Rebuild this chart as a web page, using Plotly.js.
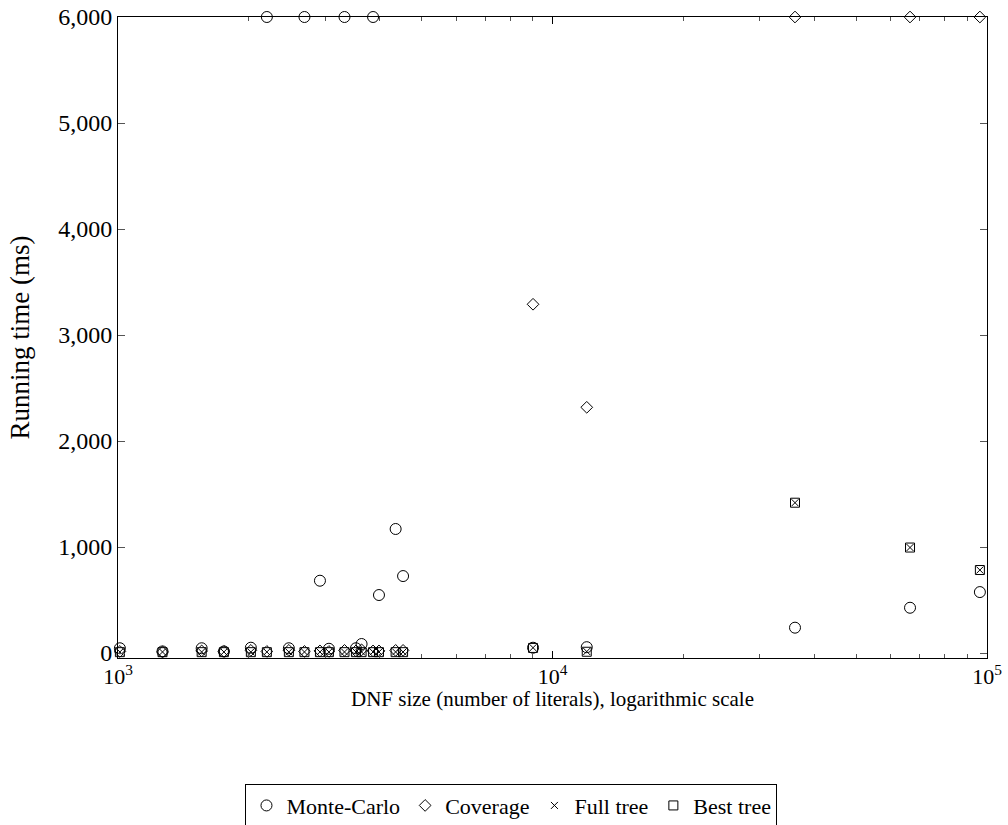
<!DOCTYPE html>
<html>
<head>
<meta charset="utf-8">
<script src="https://cdn.plot.ly/plotly-3.0.1.min.js"></script>
<style>html,body{margin:0;padding:0;background:#fff;}#chart{width:1008px;height:825px;}</style>
</head>
<body>
<div id="chart"></div>
<script>
// DNF sizes (number of literals)
const sizes = [1010, 1266, 1558, 1753, 2022, 2201, 2473, 2686, 2916, 3058, 3321, 3529, 3636, 3864, 3987, 4355, 4530, 9020, 11990, 36150, 66500, 96300];
// Running times (ms)
const monteCarlo = [45, 15, 45, 15, 50, 6000, 45, 6000, 682, 40, 6000, 45, 85, 6000, 547, 1170, 726, 50, 55, 239, 427, 575];
const coverage   = [15, 10, 20, 15, 25, 15, 25, 15, 20, 15, 25, 20, 30, 20, 20, 25, 25, 3290, 2318, 6000, 6000, 6000];
const fullTree   = [10, 10, 10, 10, 10, 10, 10, 10, 10, 10, 10, 10, 10, 10, 10, 10, 10, 50, 14, 1418, 995, 783];
const bestTree   = [8, 8, 8, 8, 8, 8, 8, 8, 8, 8, 8, 8, 8, 8, 8, 8, 8, 48, 12, 1418, 995, 783];

const seriesNames = ['Monte-Carlo', 'Coverage', 'Full tree', 'Best tree'];
const xTitle = 'DNF size (number of literals), logarithmic scale';
const yTitle = 'Running time (ms)';
const yTickVals = [0, 1000, 2000, 3000, 4000, 5000, 6000];
const xTickVals = [1000, 10000, 100000];
const xTickText = ['10<sup>3</sup>', '10<sup>4</sup>', '10<sup>5</sup>'];
const xMinorVals = [2000, 3000, 4000, 5000, 6000, 7000, 8000, 9000, 20000, 30000, 40000, 50000, 60000, 70000, 80000, 90000];

const FONT = 'Liberation Serif, Times New Roman, serif';

function trace(y, name, symbol, size) {
  return {
    x: sizes, y: y, name: name, type: 'scatter', mode: 'markers',
    marker: {symbol: symbol, size: size, color: '#000', line: {color: '#000', width: 1}},
    cliponaxis: false
  };
}

const data = [
  trace(monteCarlo, seriesNames[0], 'circle-open', 11),
  trace(coverage, seriesNames[1], 'diamond-open', 9),
  trace(fullTree, seriesNames[2], 'x-thin-open', 7),
  trace(bestTree, seriesNames[3], 'square-open', 9)
];

const layout = {
  width: 1008, height: 825,
  margin: {l: 118, r: 21, t: 17, b: 167, autoexpand: false},
  paper_bgcolor: '#fff', plot_bgcolor: '#fff',
  font: {family: FONT, size: 24, color: '#000'},
  showlegend: true,
  legend: {
    orientation: 'h', x: 0.4528, xanchor: 'center', y: -0.196, yanchor: 'top',
    bordercolor: '#000', borderwidth: 1, font: {family: FONT, size: 22, color: '#000'},
    itemwidth: 30, itemsizing: 'trace', traceorder: 'normal'
  },
  annotations: [{
    text: xTitle, xref: 'paper', yref: 'paper', x: 0.5, y: -0.0635,
    xanchor: 'center', yanchor: 'middle', showarrow: false,
    font: {family: FONT, size: 21, color: '#000'}
  }],
  xaxis: {
    type: 'log', range: [3, 5],
    tickmode: 'array', tickvals: xTickVals, ticktext: xTickText,
    ticks: 'inside', ticklen: 7, tickcolor: '#000', tickwidth: 1,
    ticklabelstandoff: -1,
    minor: {tickmode: 'array', tickvals: xMinorVals, ticks: 'inside', ticklen: 4, tickcolor: '#555', tickwidth: 1, showgrid: false},
    showline: true, linecolor: '#000', linewidth: 1, mirror: 'allticks',
    showgrid: false, zeroline: false,
    tickfont: {family: FONT, size: 22, color: '#000'}
  },
  yaxis: {
    range: [-47, 6000],
    tickmode: 'array', tickvals: yTickVals, tickformat: ',d',
    ticks: 'inside', ticklen: 7, tickcolor: '#555', tickwidth: 1,
    showline: true, linecolor: '#000', linewidth: 1, mirror: 'allticks',
    showgrid: false, zeroline: false,
    tickfont: {family: FONT, size: 24, color: '#000'},
    title: {text: yTitle, font: {family: FONT, size: 27, color: '#000'}, standoff: 20}
  }
};

Plotly.newPlot('chart', data, layout, {staticPlot: true, displayModeBar: false});
</script>
</body>
</html>
